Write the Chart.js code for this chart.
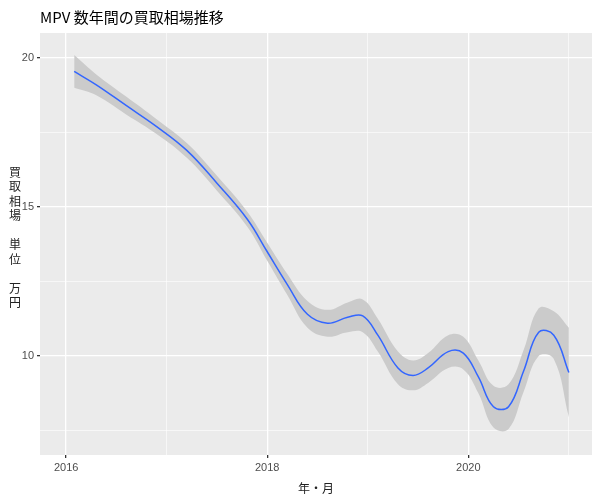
<!DOCTYPE html><html><head><meta charset="utf-8">
<script src="https://cdn.jsdelivr.net/npm/chart.js@4/dist/chart.umd.min.js"></script>
<style>body{margin:0;background:#fff}#w{width:600px;height:500px}</style></head><body><div id="w"><canvas id="c"></canvas></div>
<script>
const years=[2016.08,2016.3,2016.6,2016.9,2017.2,2017.5,2017.8,2018.0,2018.2,2018.4,2018.6,2018.8,2018.95,2019.1,2019.3,2019.45,2019.6,2019.8,2019.95,2020.1,2020.25,2020.4,2020.55,2020.7,2020.85,2021.0];
const fit=[19.55,19.1,18.4,17.7,16.9,15.8,14.6,13.5,12.4,11.4,11.1,11.3,11.35,10.7,9.6,9.35,9.6,10.15,10.1,9.3,8.3,8.3,9.5,10.8,10.7,9.45];
const halfWidth=[0.55,0.35,0.3,0.25,0.25,0.25,0.25,0.3,0.35,0.45,0.45,0.5,0.55,0.55,0.55,0.5,0.5,0.55,0.55,0.55,0.7,0.75,0.7,0.8,0.8,1.5];
const xTickLabels={2016:'2016',2018:'2018',2020:'2020'};
const yTickLabels={10:'10',15:'15',20:'20'};
const pts=a=>years.map((x,i)=>({x,y:a[i]}));
const lower=pts(fit.map((v,i)=>v-halfWidth[i])),upper=pts(fit.map((v,i)=>v+halfWidth[i]));
const bg={id:'bg',beforeDraw(c){const a=c.chartArea,x=c.ctx;x.save();x.fillStyle='#EBEBEB';x.fillRect(a.left,a.top,a.right-a.left,a.bottom-a.top);x.restore();},
afterDraw(c){const x=c.ctx;x.save();x.fillStyle='#000';x.font='15px "Noto Sans CJK JP"';x.textBaseline='middle';x.fillText('MPV 数年間の買取相場推移',40,17);
x.font='12px "Noto Sans CJK JP"';x.textAlign='center';x.fillStyle='#222';x.fillText('年・月',316,488);
const ch=['買','取','相','場','','単','位','','万','円'];ch.forEach((t,i)=>x.fillText(t,15,172+i*14.5));x.restore();}};
const gc=()=>'#FFFFFF';
const gw=m=>ctx=>m[ctx.tick.value]!==undefined?1.3:0.6;
new Chart(document.getElementById('c'),{type:'line',data:{datasets:[
{data:lower,borderWidth:0,pointRadius:0,tension:0.4,fill:false,order:2},
{data:upper,borderWidth:0,pointRadius:0,tension:0.4,fill:'-1',backgroundColor:'#CBCBCB',order:2},
{data:pts(fit),borderColor:'#3366FF',borderWidth:1.5,pointRadius:0,tension:0.4,fill:false,order:0}]},
options:{animation:false,responsive:true,maintainAspectRatio:false,layout:{padding:{top:33,right:8,left:0,bottom:0}},
plugins:{legend:{display:false},tooltip:{enabled:false}},
scales:{x:{type:'linear',min:2015.74,max:2021.23,afterFit(s){s.height=45},afterBuildTicks(s){s.ticks=[2016,2017,2018,2019,2020,2021].map(v=>({value:v}))},
ticks:{autoSkip:false,maxRotation:0,color:'#4D4D4D',font:{size:11},callback:v=>xTickLabels[v]||''},grid:{color:gc,lineWidth:gw(xTickLabels),tickLength:3,tickColor:ctx=>xTickLabels[ctx.tick.value]?'#333':'rgba(0,0,0,0)'},border:{display:false}},
y:{min:6.68,max:20.84,afterFit(s){s.width=40},afterBuildTicks(s){s.ticks=[7.5,10,12.5,15,17.5,20].map(v=>({value:v}))},
ticks:{autoSkip:false,color:'#4D4D4D',font:{size:11},callback:v=>yTickLabels[v]||''},grid:{color:gc,lineWidth:gw(yTickLabels),tickLength:3,tickColor:ctx=>yTickLabels[ctx.tick.value]?'#333':'rgba(0,0,0,0)'},border:{display:false}}}},
plugins:[bg]});
</script></body></html>
